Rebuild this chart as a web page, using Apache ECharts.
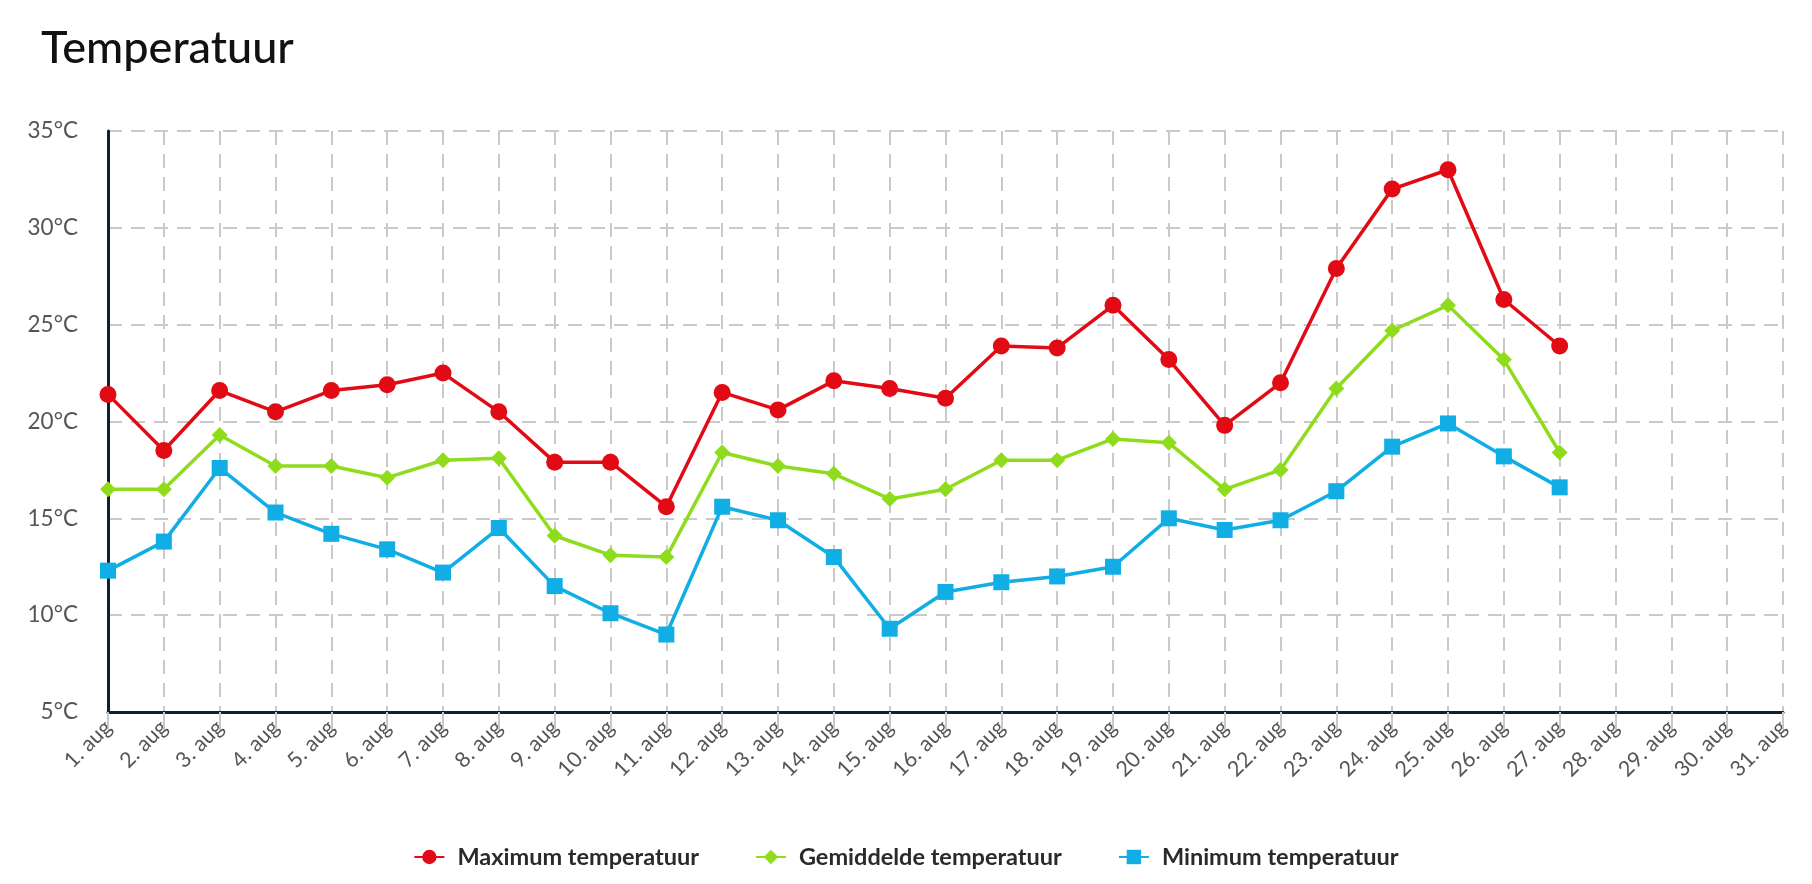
<!DOCTYPE html>
<html>
<head>
<meta charset="utf-8">
<title>Temperatuur</title>
<script src="https://cdn.jsdelivr.net/npm/echarts@6/dist/echarts.min.js"></script>
<style>
  html, body { margin: 0; padding: 0; background: #fff; }
  #chart { width: 1812px; height: 884px; }
</style>
</head>
<body>
<div id="chart"></div>
<script>
// dagen van augustus
const days = [];
for (let d = 1; d <= 31; d++) days.push(d + '. aug');

const seriesNames = ['Maximum temperatuur', 'Gemiddelde temperatuur', 'Minimum temperatuur'];

// waarden per dag (1 t/m 27 aug)
const maxTemp = [21.4, 18.5, 21.6, 20.5, 21.6, 21.9, 22.5, 20.5, 17.9, 17.9, 15.6, 21.5, 20.6, 22.1, 21.7, 21.2, 23.9, 23.8, 26.0, 23.2, 19.8, 22.0, 27.9, 32.0, 33.0, 26.3, 23.9];
const avgTemp = [16.5, 16.5, 19.3, 17.7, 17.7, 17.1, 18.0, 18.1, 14.1, 13.1, 13.0, 18.4, 17.7, 17.3, 16.0, 16.5, 18.0, 18.0, 19.1, 18.9, 16.5, 17.5, 21.7, 24.7, 26.0, 23.2, 18.4];
const minTemp = [12.3, 13.8, 17.6, 15.3, 14.2, 13.4, 12.2, 14.5, 11.5, 10.1, 9.0, 15.6, 14.9, 13.0, 9.3, 11.2, 11.7, 12.0, 12.5, 15.0, 14.4, 14.9, 16.4, 18.7, 19.9, 18.2, 16.6];

const colors = ['#e20a14', '#8edc1c', '#10aee4'];
const symbols = ['circle', 'diamond', 'rect'];
const sizes = [17, 16, 16];
const font = 'Lato, "Noto Sans", sans-serif';

const chart = echarts.init(document.getElementById('chart'));

const makeSeries = (name, data, i) => ({
    name: name,
    type: 'line',
    data: data,
    symbol: symbols[i],
    symbolSize: sizes[i],
    showAllSymbol: true,
    lineStyle: { width: 3.5, color: colors[i] },
    itemStyle: { color: colors[i] },
    z: 3 + i
});

chart.setOption({
    animation: false,
    title: {
        text: 'Temperatuur',
        left: 36,
        top: 21,
        textStyle: { fontFamily: font, fontSize: 45, fontWeight: 500, color: '#111' }
    },
    legend: {
        bottom: 10,
        left: 'center',
        itemGap: 56,
        itemWidth: 30,
        itemHeight: 18,
        data: seriesNames,
        textStyle: { fontFamily: font, fontSize: 23.5, fontWeight: 'bold', color: '#2a2a2a', padding: [0, 0, 0, 8] }
    },
    grid: {
        left: 108,
        right: 29,
        top: 131,
        bottom: 172
    },
    xAxis: {
        type: 'category',
        data: days,
        boundaryGap: false,
        axisLine: { lineStyle: { color: '#0c2231', width: 3 } },
        axisTick: { show: true, length: 18, lineStyle: { color: '#c9c9c9', width: 2 } },
        axisLabel: {
            rotate: 45,
            interval: 0,
            margin: 12,
            fontFamily: font,
            fontSize: 21.5,
            color: '#555'
        },
        splitLine: { show: true, lineStyle: { color: '#c9c9c9', type: [14, 9], width: 2 } }
    },
    yAxis: {
        type: 'value',
        min: 5,
        max: 35,
        interval: 5,
        axisLine: { show: true, lineStyle: { color: '#0c2231', width: 3 } },
        axisTick: { show: false },
        axisLabel: {
            margin: 30,
            fontFamily: font,
            fontSize: 22.5,
            color: '#555',
            formatter: '{value}°C'
        },
        splitLine: { show: true, lineStyle: { color: '#c9c9c9', type: [14, 9], width: 2 } }
    },
    series: [
        makeSeries(seriesNames[0], maxTemp, 0),
        makeSeries(seriesNames[1], avgTemp, 1),
        makeSeries(seriesNames[2], minTemp, 2)
    ]
});
</script>
</body>
</html>
